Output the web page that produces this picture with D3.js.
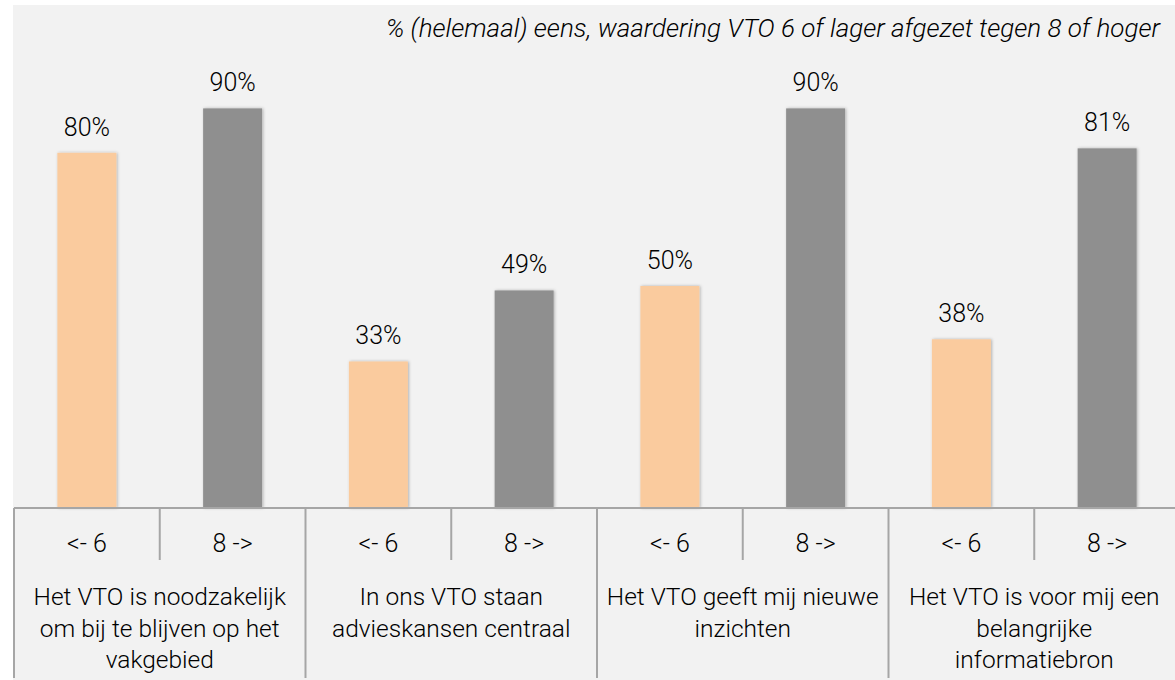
<!DOCTYPE html>
<html>
<head>
<meta charset="utf-8">
<script src="https://cdn.jsdelivr.net/npm/d3@7"></script>
<style>
  html, body { margin: 0; padding: 0; background: #ffffff; }
  svg { display: block; }
  text { font-family: Roboto, "Noto Sans", sans-serif; fill: #000000; }
</style>
</head>
<body>
<svg id="chart" width="1175" height="680"></svg>
<script>
// ---- data ----
const categories = [
  "Het VTO is noodzakelijk om bij te blijven op het vakgebied",
  "In ons VTO staan advieskansen centraal",
  "Het VTO geeft mij nieuwe inzichten",
  "Het VTO is voor mij een belangrijke informatiebron"
];
const categoryLines = [
  ["Het VTO is noodzakelijk", "om bij te blijven op het", "vakgebied"],
  ["In ons VTO staan", "advieskansen centraal"],
  ["Het VTO geeft mij nieuwe", "inzichten"],
  ["Het VTO is voor mij een", "belangrijke", "informatiebron"]
];
const subGroups = ["<- 6", "8 ->"];
const lowValues = [0.80, 0.33, 0.50, 0.38];   // waardering 6 of lager
const highValues = [0.90, 0.49, 0.90, 0.81];  // waardering 8 of hoger
const seriesColors = ["#FACB9E", "#8F8F8F"];
const title = "% (helemaal) eens, waardering VTO 6 of lager afgezet tegen 8 of hoger";

// ---- layout ----
const svg = d3.select("#chart");
const defs = svg.append("defs");
const f = defs.append("filter").attr("id", "shadow")
  .attr("x", "-20%").attr("y", "-5%").attr("width", "140%").attr("height", "110%");
f.append("feDropShadow").attr("dx", 1).attr("dy", 0).attr("stdDeviation", 1.6)
  .attr("flood-color", "#000").attr("flood-opacity", 0.28);

svg.append("rect").attr("x", 13).attr("y", 5).attr("width", 1162).attr("height", 675)
  .attr("fill", "#F2F2F2");

const left = 14, groupW = 291.5;
const baseY = 508, bottomY = 678, subLineBottom = 560;

const x0 = d3.scaleBand().domain(categories)
  .range([left, left + groupW * categories.length]).paddingInner(0).paddingOuter(0);
const x1 = d3.scaleBand().domain(subGroups).range([0, x0.bandwidth()]).padding(0);
const y = d3.scaleLinear().domain([0, 1]).range([baseY, 64]);

const barW = 59;
const data = categories.map((c, i) => ({
  cat: c, i,
  vals: [
    { key: subGroups[0], v: lowValues[i], color: seriesColors[0] },
    { key: subGroups[1], v: highValues[i], color: seriesColors[1] }
  ]
}));

const fw = 300;

// bars
const g = svg.append("g");
const groups = g.selectAll("g.grp").data(data).join("g")
  .attr("transform", d => `translate(${x0(d.cat)},0)`);

groups.selectAll("rect").data(d => d.vals).join("rect")
  .attr("x", d => x1(d.key) + x1.bandwidth() / 2 - barW / 2)
  .attr("y", d => y(d.v))
  .attr("width", barW)
  .attr("height", d => baseY - y(d.v))
  .attr("fill", d => d.color)
  .attr("filter", "url(#shadow)");

groups.selectAll("text.val").data(d => d.vals).join("text")
  .attr("class", "val")
  .attr("x", d => x1(d.key) + x1.bandwidth() / 2)
  .attr("y", d => y(d.v) - 17)
  .attr("text-anchor", "middle")
  .attr("font-size", 25)
  .attr("font-weight", fw)
  .text(d => Math.round(d.v * 100) + "%");

// axis structure
const lineColor = "#A6A6A6";
const ax = svg.append("g");
ax.append("line").attr("x1", left).attr("x2", 1175).attr("y1", baseY).attr("y2", baseY)
  .attr("stroke", lineColor).attr("stroke-width", 2);

// group boundaries
const bounds = categories.map(c => x0(c)).concat([x0.range()[1]]);
ax.selectAll("line.gb").data(bounds).join("line").attr("class", "gb")
  .attr("x1", d => d).attr("x2", d => d)
  .attr("y1", baseY).attr("y2", bottomY)
  .attr("stroke", lineColor).attr("stroke-width", 2);

// sub boundaries
ax.selectAll("line.sb").data(categories).join("line").attr("class", "sb")
  .attr("x1", d => x0(d) + x1(subGroups[1])).attr("x2", d => x0(d) + x1(subGroups[1]))
  .attr("y1", baseY).attr("y2", subLineBottom)
  .attr("stroke", lineColor).attr("stroke-width", 2);

// sub labels
groups.selectAll("text.sub").data(d => d.vals).join("text")
  .attr("class", "sub")
  .attr("x", d => x1(d.key) + x1.bandwidth() / 2)
  .attr("y", 552)
  .attr("text-anchor", "middle")
  .attr("font-size", 25)
  .attr("font-weight", fw)
  .text(d => d.key);

// category labels
groups.each(function(d, i) {
  const t = d3.select(this).append("text")
    .attr("text-anchor", "middle")
    .attr("font-size", 24.5)
    .attr("font-weight", fw);
  categoryLines[i].forEach((ln, k) => {
    t.append("tspan").attr("x", x0.bandwidth() / 2).attr("y", 605 + k * 31.5).text(ln);
  });
});

// title
svg.append("text")
  .attr("x", 1160).attr("y", 37)
  .attr("text-anchor", "end")
  .attr("font-size", 26)
  .attr("font-style", "italic")
  .attr("font-weight", fw)
  .text(title);
</script>
</body>
</html>
